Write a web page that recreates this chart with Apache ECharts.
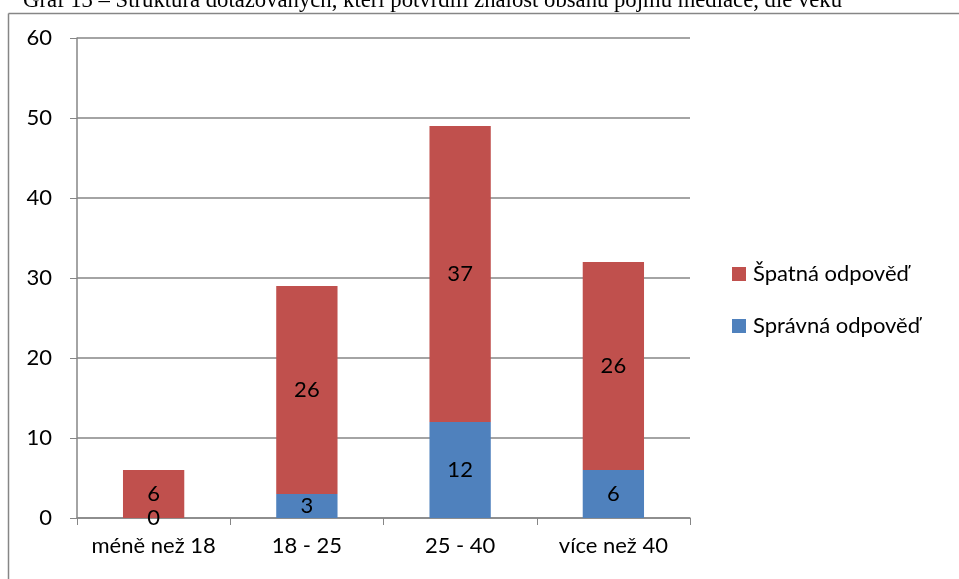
<!DOCTYPE html>
<html><head><meta charset="utf-8">
<script src="https://cdn.jsdelivr.net/npm/echarts@6/dist/echarts.min.js"></script>
<style>html,body{margin:0;padding:0;background:#fff}#c{width:959px;height:579px}</style>
</head><body><div id="c"></div>
<script>
const categories = ['méně než 18', '18 - 25', '25 - 40', 'více než 40'];
const spravna = [0, 3, 12, 6];
const spatna = [6, 26, 37, 26];
const yTicks = [0, 10, 20, 30, 40, 50, 60];
const titleText = 'Graf 13 – Struktura dotazovaných, kteří potvrdili znalost obsahu pojmu mediace, dle věku';

const font = 'Lato, "Open Sans", sans-serif';
const chart = echarts.init(document.getElementById('c'));
chart.setOption({
  animation: false,
  title: { text: titleText, left: 18, top: -15, textStyle: { fontFamily: '"Liberation Serif", "DejaVu Serif", serif', fontSize: 22.7, fontWeight: 'normal', color: '#000' } },
  graphic: [
    { type: 'line', shape: { x1: 8.5, y1: 13.5, x2: 959, y2: 13.5 }, style: { stroke: '#868686', lineWidth: 1.5 } },
    { type: 'line', shape: { x1: 8.5, y1: 13.5, x2: 8.5, y2: 579 }, style: { stroke: '#868686', lineWidth: 1.5 } }
  ],
  grid: { left: 77, right: 269, top: 38, bottom: 61, containLabel: false },
  legend: {
    orient: 'vertical', left: 727, top: 258, itemWidth: 14, itemHeight: 14, itemGap: 30, icon: 'rect',
    data: ['Špatná odpověď', 'Správná odpověď'],
    textStyle: { fontFamily: font, fontSize: 22, color: '#000', padding: [0, 0, 0, 2] }
  },
  xAxis: {
    type: 'category', data: categories,
    axisLine: { lineStyle: { color: '#868686', width: 1.5 } },
    axisTick: { show: true, alignWithLabel: false, length: 7, lineStyle: { color: '#868686' } },
    axisLabel: { fontFamily: font, fontSize: 22, color: '#000', margin: 17, interval: 0 }
  },
  yAxis: {
    type: 'value', min: 0, max: 60, interval: 10,
    axisLine: { show: true, lineStyle: { color: '#868686', width: 1.5 } },
    axisTick: { show: true, length: 7, lineStyle: { color: '#868686' } },
    axisLabel: { fontFamily: font, fontSize: 22, color: '#000', margin: 25 },
    splitLine: { lineStyle: { color: '#868686', width: 1.5 } }
  },
  series: [
    { name: 'Správná odpověď', type: 'bar', stack: 's', data: spravna, barWidth: '40%',
      itemStyle: { color: '#4F81BD' },
      label: { show: true, position: 'inside', fontFamily: font, fontSize: 22, color: '#000' } },
    { name: 'Špatná odpověď', type: 'bar', stack: 's', data: spatna, barWidth: '40%',
      itemStyle: { color: '#C0504D' },
      label: { show: true, position: 'inside', fontFamily: font, fontSize: 22, color: '#000' } }
  ]
});
</script></body></html>
